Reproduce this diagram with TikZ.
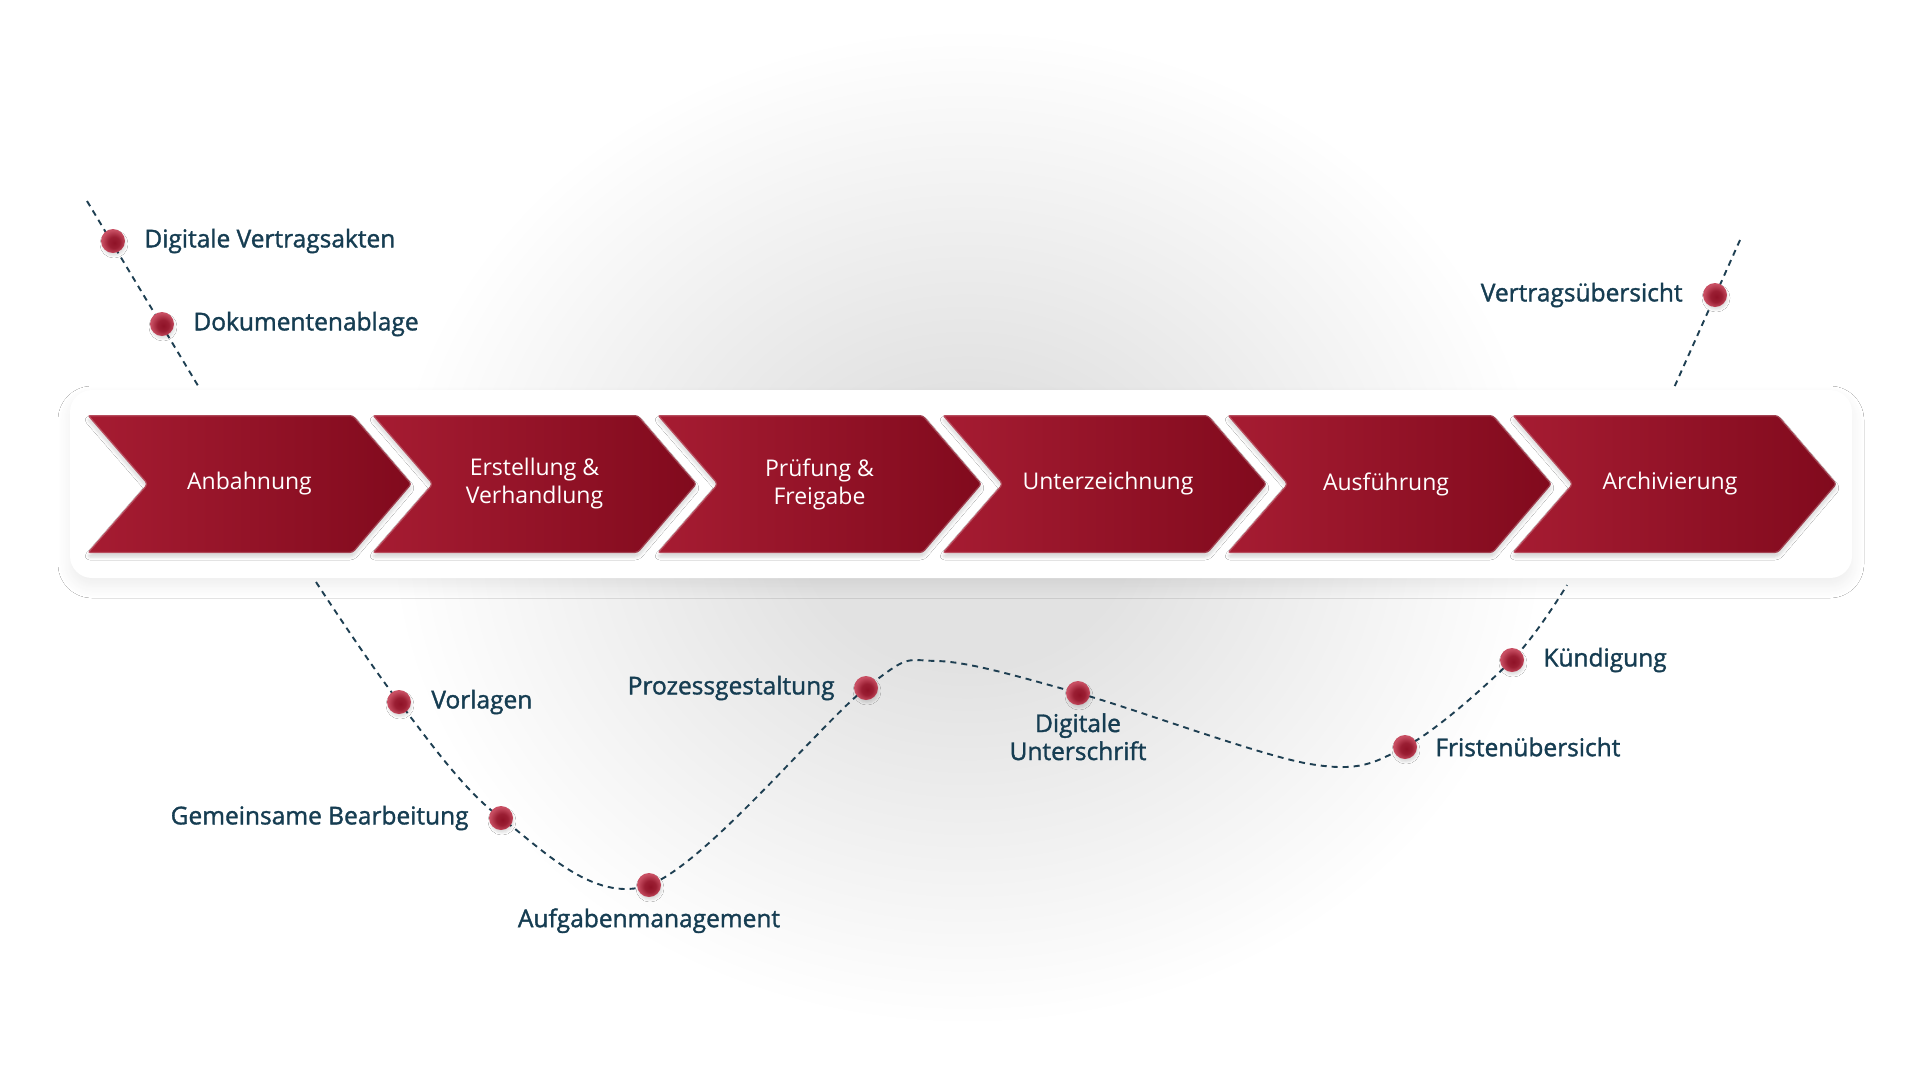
\documentclass[tikz,border=0pt]{standalone}
\usepackage{fontspec}
\setmainfont{Open Sans}
\newfontfamily\lblfont{Open Sans}[FakeBold=1.4]
\usetikzlibrary{positioning,shadows.blur}

\definecolor{chevlight}{HTML}{A61C32}
\definecolor{chevdark}{HTML}{810A1D}
\definecolor{inktext}{HTML}{163D52}
\definecolor{dashink}{HTML}{1E3F52}
\definecolor{glowgrey}{HTML}{E2E2E2}
\definecolor{dotdark}{HTML}{8F1227}
\definecolor{dotlight}{HTML}{C84F63}

\pgfdeclareradialshading{glow}{\pgfpoint{0bp}{0bp}}{color(0bp)=(glowgrey); color(7bp)=(glowgrey); color(25bp)=(white); color(50bp)=(white)}
\pgfdeclareradialshading{redball}{\pgfpoint{3bp}{-4bp}}{color(0bp)=(dotdark); color(12bp)=(dotdark!80!dotlight); color(25bp)=(dotlight); color(50bp)=(dotlight)}

\begin{document}
\begin{tikzpicture}[x=1pt,y=-1pt,
chev/.style={left color=chevlight,right color=chevdark,rounded corners=3pt,
  draw=white,draw opacity=0.22,line width=2.5pt,
  blur shadow={shadow xshift=0pt,shadow yshift=-4pt,shadow blur radius=3pt,shadow opacity=16}},
chevtxt/.style={text=white,align=center,inner sep=0pt,font=\fontsize{23}{28}\selectfont},
panel/.style={fill=white,rounded corners=22pt,minimum width=1782pt,minimum height=188pt,
  blur shadow={shadow xshift=0pt,shadow yshift=-8pt,shadow blur radius=12pt,shadow blur steps=12,shadow opacity=7}},
dot/.style={circle,minimum size=24pt,inner sep=0pt,shade,shading=redball,
  blur shadow={shadow xshift=1pt,shadow yshift=-3pt,shadow blur radius=2pt,shadow opacity=12}},
lbl/.style={text=inktext,inner sep=0pt,font=\lblfont\fontsize{24.5}{28}\selectfont},
trail/.style={dashink,line width=1.9pt,dash pattern=on 6pt off 5pt}]
\useasboundingbox (0,0) rectangle (1920,1080);
\fill[white] (0,0) rectangle (1920,1080);
\shade[shading=glow] (967,527) ellipse [x radius=580pt,y radius=500pt];

% panel with the six phases
\node[panel] (panel) at (961,484) {};
\draw[chev] (87,415) -- (353,415) -- (412,484) -- (353,553) -- (87,553) -- (147,484) -- cycle;
\draw[chev] (372,415) -- (638,415) -- (697,484) -- (638,553) -- (372,553) -- (432,484) -- cycle;
\draw[chev] (657,415) -- (923,415) -- (982,484) -- (923,553) -- (657,553) -- (717,484) -- cycle;
\draw[chev] (942,415) -- (1208,415) -- (1267,484) -- (1208,553) -- (942,553) -- (1002,484) -- cycle;
\draw[chev] (1227,415) -- (1493,415) -- (1552,484) -- (1493,553) -- (1227,553) -- (1287,484) -- cycle;
\draw[chev] (1512,415) -- (1778,415) -- (1837,484) -- (1778,553) -- (1512,553) -- (1572,484) -- cycle;
\node[chevtxt] (anb) at (249.5,484) {Anbahnung};
\node[chevtxt] (erst) at (534.5,484) {Erstellung \&\\Verhandlung};
\node[chevtxt] (pruef) at (819.5,484) {Prüfung \&\\Freigabe};
\node[chevtxt] (unter) at (1108,484) {Unterzeichnung};
\node[chevtxt] (ausf) at (1386,484) {Ausführung};
\node[chevtxt] (arch) at (1670,484) {Archivierung};

% trails
\coordinate (tl0) at (87,201);
\coordinate (tl1) at (200,389);
\coordinate (tr0) at (1740,240);
\coordinate (tr1) at (1673,390);
\coordinate (b0) at (316,582);
\coordinate (bpeak) at (937,661);
\coordinate (btrough) at (1310,764);
\coordinate (b1) at (1567,585);

\coordinate (dva) at (113,241);
\coordinate (dok) at (162,324);
\coordinate (vue) at (1715,295);
\coordinate (vorl) at (399,702);
\coordinate (gem) at (501,818);
\coordinate (aufg) at (649,885);
\coordinate (proz) at (866,688);
\coordinate (digu) at (1078,693);
\coordinate (frist) at (1405,747);
\coordinate (kuend) at (1512,660);

\draw[trail] (tl0) -- (tl1);
\draw[trail] (tr0) -- (tr1);
\draw[trail] plot[smooth,tension=0.55] coordinates {(b0) (vorl) (gem) (aufg)
  (proz) (bpeak) (digu) (btrough) (frist) (kuend) (b1)};

\node[dot] (dvadot) at (dva) {};
\node[dot] (dokdot) at (dok) {};
\node[dot] (vuedot) at (vue) {};
\node[dot] (vorldot) at (vorl) {};
\node[dot] (gemdot) at (gem) {};
\node[dot] (aufgdot) at (aufg) {};
\node[dot] (prozdot) at (proz) {};
\node[dot] (digudot) at (digu) {};
\node[dot] (fristdot) at (frist) {};
\node[dot] (kuenddot) at (kuend) {};

\node[lbl,right=19pt of dvadot] (dvat) {Digitale Vertragsakten};
\node[lbl,right=19pt of dokdot] (dokt) {Dokumentenablage};
\node[lbl,left=20pt of vuedot] (vuet) {Vertragsübersicht};
\node[lbl,right=20pt of vorldot] (vorlt) {Vorlagen};
\node[lbl,left=20pt of gemdot] (gemt) {Gemeinsame Bearbeitung};
\node[lbl,below=11pt of aufgdot] (aufgt) {Aufgabenmanagement};
\node[lbl,left=19pt of prozdot] (prozt) {Prozessgestaltung};
\node[lbl,below=8pt of digudot,align=center] (digut) {Digitale\\Unterschrift};
\node[lbl,right=18pt of fristdot] (fristt) {Fristenübersicht};
\node[lbl,right=19pt of kuenddot] (kuendt) {Kündigung};
\end{tikzpicture}
\end{document}
